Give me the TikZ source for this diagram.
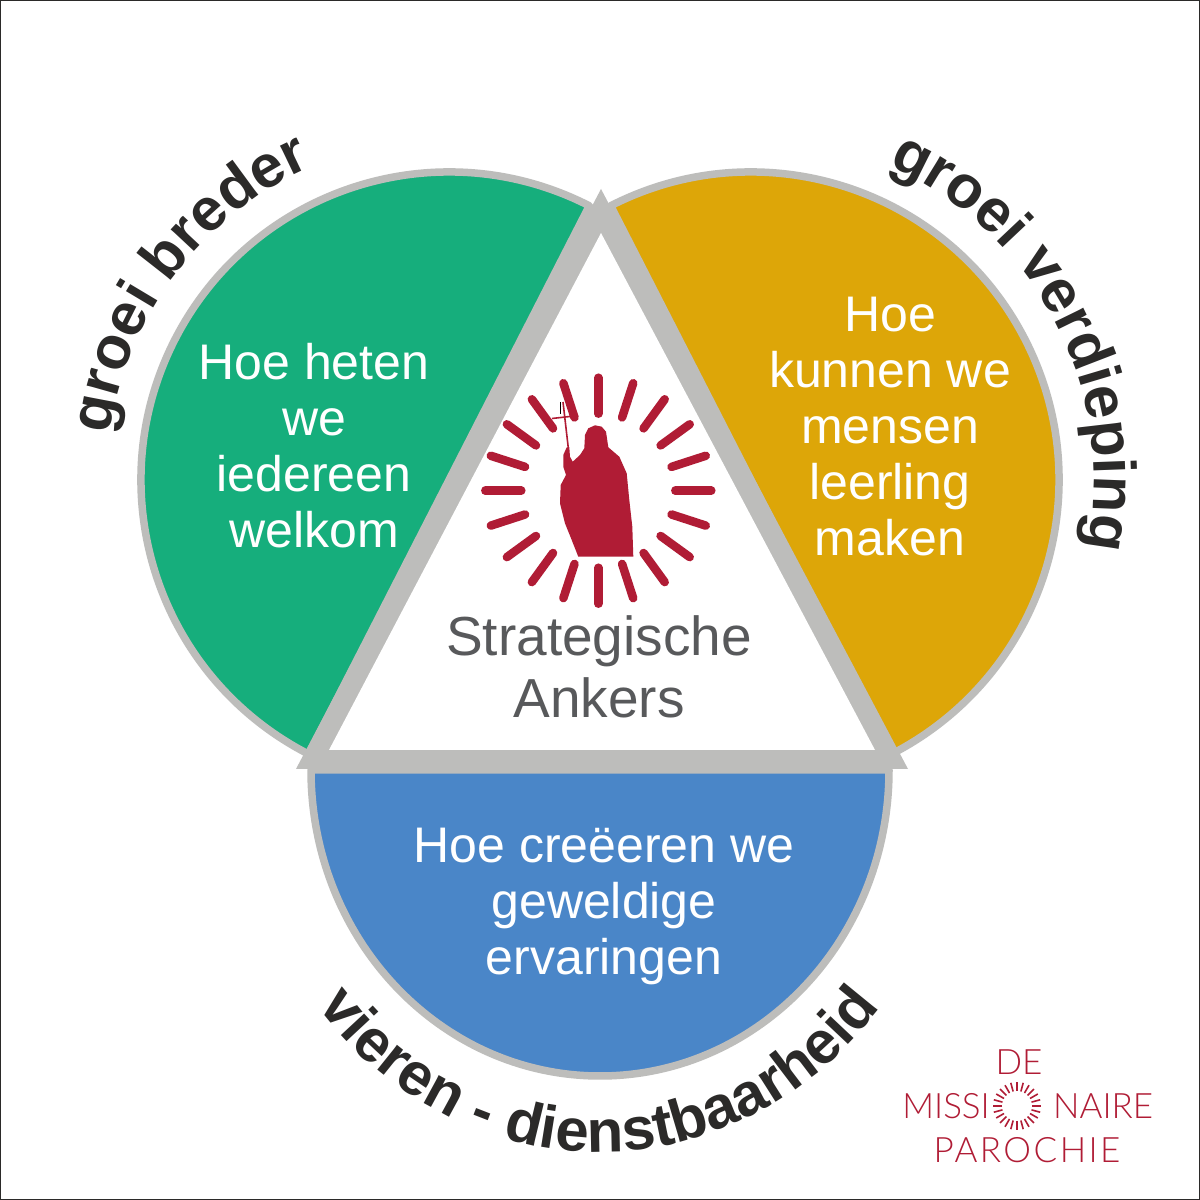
\documentclass[tikz,border=0pt]{standalone}
\usepackage{fontspec}
\setmainfont{Liberation Sans}
\newfontfamily\logofont{Lato Light}
\usetikzlibrary{decorations.text}
\definecolor{groen}{HTML}{16AE7C}
\definecolor{oranje}{HTML}{DDA608}
\definecolor{blauw}{HTML}{4A86C8}
\definecolor{rand}{HTML}{BDBDBB}
\definecolor{inkt}{HTML}{2B2A29}
\definecolor{grijstekst}{HTML}{58595B}
\definecolor{rood}{HTML}{B01C35}
\newcommand{\kopfont}{\bfseries\fontsize{60}{62}\selectfont}
\tikzset{
  lobe/.style={draw=rand,line width=7.5pt,line join=round},
  vraag/.style={text=white,align=center,font=\fontsize{50}{56}\selectfont,inner sep=0pt},
  anker/.style={text=grijstekst,align=center,font=\fontsize{55}{62}\selectfont,inner sep=0pt},
  kop/.style={decorate,decoration={text along path,text align=center,text color=inkt,text={|\kopfont|#1}}},
  straal/.style={rood,line width=8.5pt,line cap=round},
  kleinstraal/.style={rood,line width=1.6pt},
  logotekst/.style={text=rood,inner sep=0pt,font=\logofont\fontsize{35}{35}\selectfont}
}
\begin{document}
\begin{tikzpicture}[x=1pt,y=1pt]
\useasboundingbox (0,0) rectangle (1200,1200);
\fill[white] (0,0) rectangle (1200,1200);
\draw[inkt,line width=1.5pt] (0,0) rectangle (1200,1200);
\coordinate (cg) at (449,720);
\coordinate (co) at (751,720);
\coordinate (cb) at (600,430);
\coordinate (ct) at (599,430);
% lobes
\draw[lobe,fill=groen] (cg) ++(62.9:308) arc[start angle=62.9,end angle=242.9,radius=308] -- cycle;
\draw[lobe,fill=oranje] (co) ++(117.1:308) arc[start angle=117.1,end angle=-62.9,radius=308] -- cycle;
\draw[lobe,fill=blauw] (cb) ++(-289,0) arc[start angle=180,end angle=360,x radius=289,y radius=306] -- cycle;
% triangle
\fill[rand] (601,1011) -- (296,431) -- (908,431) -- cycle;
\fill[white] (601,967) -- (329,450) -- (875,450) -- cycle;
% questions
\node[vraag] (v1) at (314,754) {Hoe heten\\we\\iedereen\\welkom};
\node[vraag] (v2) at (890,773) {Hoe\\kunnen we\\mensen\\leerling\\maken};
\node[vraag] (v3) at (604,294) {Hoe creëeren we\\geweldige\\ervaringen};
\node[anker] (a) at (599,533) {Strategische\\Ankers};
% curved headings
\path[kop={groei breder}] (cg) ++(185.5:342) arc[start angle=185.5,end angle=100.5,radius=342];
\path[kop={groei verdieping}] (co) ++(80:343) arc[start angle=80,end angle=-25,radius=343];
\path[kop={vieren - dienstbaarheid}] (ct) ++(-336.4,-130.7) arc[start angle=200,end angle=340,x radius=358,y radius=382];
% emblem
\coordinate (zon) at (598.3,709.3);
\foreach \a in {0,18,...,342}
  \draw[straal] (zon) ++(\a:77) -- ++(\a:36);
\fill[rood] (578.3,1200-556.7) -- (633.3,1200-556.7) -- (632.3,1200-526.7) -- (629.3,1200-500) -- (626.7,1200-473.3) -- (619.3,1200-456.7) -- (608.3,1200-447.3) -- (606,1200-431.7) -- (601.7,1200-426.7) -- (595,1200-425.3) -- (588.3,1200-428.3) -- (585,1200-435) -- (584.3,1200-448.3) -- (580,1200-455) -- (572.7,1200-461.7) -- (570,1200-456.7) -- (569.3,1200-447.3) -- (566.7,1200-447.3) -- (563.3,1200-455) -- (563.3,1200-466.7) -- (566,1200-475) -- (560.7,1200-485) -- (560,1200-503.3) -- (565,1200-523.3) -- (571.7,1200-540) -- cycle;
\draw[rood,line width=1.6pt] (568.3,1200-448) -- (563,1200-402);
\draw[rood,line width=1.6pt] (552,1200-418.5) -- (570,1200-416.5);
\draw[black,line width=1.5pt] (560.5,1200-402) -- (560.5,1200-414);
% logo
\node[logotekst,anchor=base] (l1) at (1019,1200-1075) {DE};
\node[logotekst,anchor=base east] (l2a) at (990,1200-1119) {MISSI};
\node[logotekst,anchor=base west] (l2b) at (1053,1200-1119) {NAIRE};
\node[logotekst,anchor=base] (l3) at (1027,1200-1163) {\addfontfeature{LetterSpace=7}PAROCHIE};
\foreach \a in {0,15,...,345}
  \draw[kleinstraal] (1017,94) ++(\a:15) -- ++(\a:9);
\end{tikzpicture}
\end{document}
